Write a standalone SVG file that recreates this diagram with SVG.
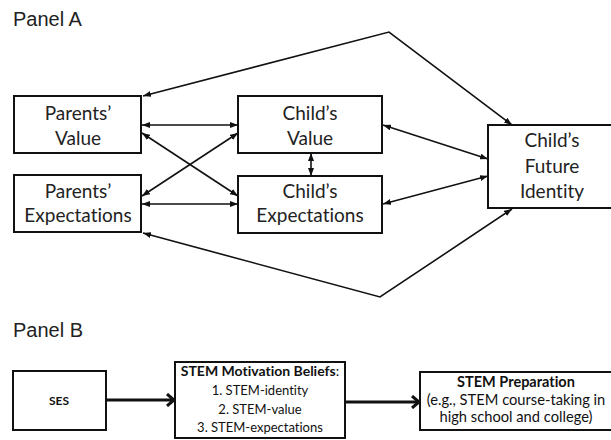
<svg xmlns="http://www.w3.org/2000/svg" width="611" height="440" viewBox="0 0 611 440">
<style>
.title{font-family:"Liberation Sans",Arial,sans-serif;font-size:20px;fill:#222}
.box{fill:#fff;stroke:#111;stroke-width:2}
text{font-variant-ligatures:none;font-feature-settings:"liga" 0}
.lbl{font-family:Lato,"Liberation Sans",sans-serif;font-size:19px;fill:#222;text-anchor:middle}
.sm{font-family:Lato,"Liberation Sans",sans-serif;font-size:13px;fill:#111;text-anchor:middle}
.smb{font-family:Lato,"Liberation Sans",sans-serif;font-size:14px;font-weight:bold;fill:#111;text-anchor:middle}
.pr{font-size:14.5px}
.con{fill:none;stroke:#111;stroke-width:1.6;marker-start:url(#ah);marker-end:url(#ah)}
.thick{fill:none;stroke:#111;stroke-width:3;marker-end:url(#chev)}
</style>
<defs>
<marker id="ah" markerUnits="userSpaceOnUse" markerWidth="8" markerHeight="6" refX="8" refY="3" orient="auto-start-reverse">
<path d="M0,0 L8,3 L0,6 z" fill="#111"/>
</marker>
<marker id="chev" markerUnits="userSpaceOnUse" markerWidth="12" markerHeight="14" refX="9" refY="7" orient="auto">
<path d="M2,1 L9,7 L2,13" fill="none" stroke="#111" stroke-width="3"/>
</marker>
</defs>
<rect width="611" height="440" fill="#fff"/>
<text class="title" x="13" y="26">Panel A</text>
<text class="title" x="13" y="337">Panel B</text>

<g id="connectors">
<line class="con" x1="142" y1="125" x2="238" y2="125"/>
<line class="con" x1="142" y1="204" x2="238" y2="204"/>
<line class="con" x1="142" y1="133" x2="238" y2="196"/>
<line class="con" x1="238" y1="133" x2="142" y2="196"/>
<line class="con" x1="311" y1="153" x2="311" y2="176"/>
<line class="con" x1="383" y1="125" x2="488" y2="159"/>
<line class="con" x1="383" y1="204" x2="488" y2="176"/>
<polyline class="con" points="143,96 389,32 512,125"/>
<polyline class="con" points="143,233 380,297 512,209"/>
<line class="thick" x1="107" y1="400" x2="174" y2="400"/>
<line class="thick" x1="346" y1="402" x2="419" y2="402"/>
</g>

<g id="parents-value">
<rect class="box" x="14" y="96" width="127" height="57"/>
<text class="lbl" x="78" y="120">Parents’</text>
<text class="lbl" x="78" y="145">Value</text>
</g>
<g id="parents-expectations">
<rect class="box" x="14" y="175" width="127" height="57"/>
<text class="lbl" x="78" y="198">Parents’</text>
<text class="lbl" x="78" y="222">Expectations</text>
</g>
<g id="childs-value">
<rect class="box" x="238" y="96" width="144" height="57"/>
<text class="lbl" x="310" y="120">Child’s</text>
<text class="lbl" x="310" y="145">Value</text>
</g>
<g id="childs-expectations">
<rect class="box" x="238" y="176" width="144" height="57"/>
<text class="lbl" x="310" y="198">Child’s</text>
<text class="lbl" x="310" y="222">Expectations</text>
</g>
<g id="childs-future-identity">
<rect class="box" x="488" y="125" width="130" height="83"/>
<text class="lbl" x="552" y="147">Child’s</text>
<text class="lbl" x="552" y="173">Future</text>
<text class="lbl" x="552" y="198">Identity</text>
</g>

<g id="ses">
<rect class="box" x="13" y="371" width="93" height="59"/>
<text class="smb" x="59" y="405" style="font-size:12px">SES</text>
</g>
<g id="stem-motivation">
<rect class="box" x="175" y="362" width="170" height="76"/>
<text class="smb" x="260" y="376">STEM Motivation Beliefs<tspan font-weight="normal">:</tspan></text>
<text class="sm" x="260" y="395">1. STEM-identity</text>
<text class="sm" x="260" y="414">2. STEM-value</text>
<text class="sm" x="260" y="432">3. STEM-expectations</text>
</g>
<g id="stem-preparation">
<rect class="box" x="420" y="372" width="196" height="58"/>
<text class="smb pr" x="516" y="387">STEM Preparation</text>
<text class="sm" x="516" y="405" style="font-size:14.7px">(e.g., STEM course-taking in</text>
<text class="sm" x="516" y="422" style="font-size:14.7px">high school and college)</text>
</g>
</svg>
